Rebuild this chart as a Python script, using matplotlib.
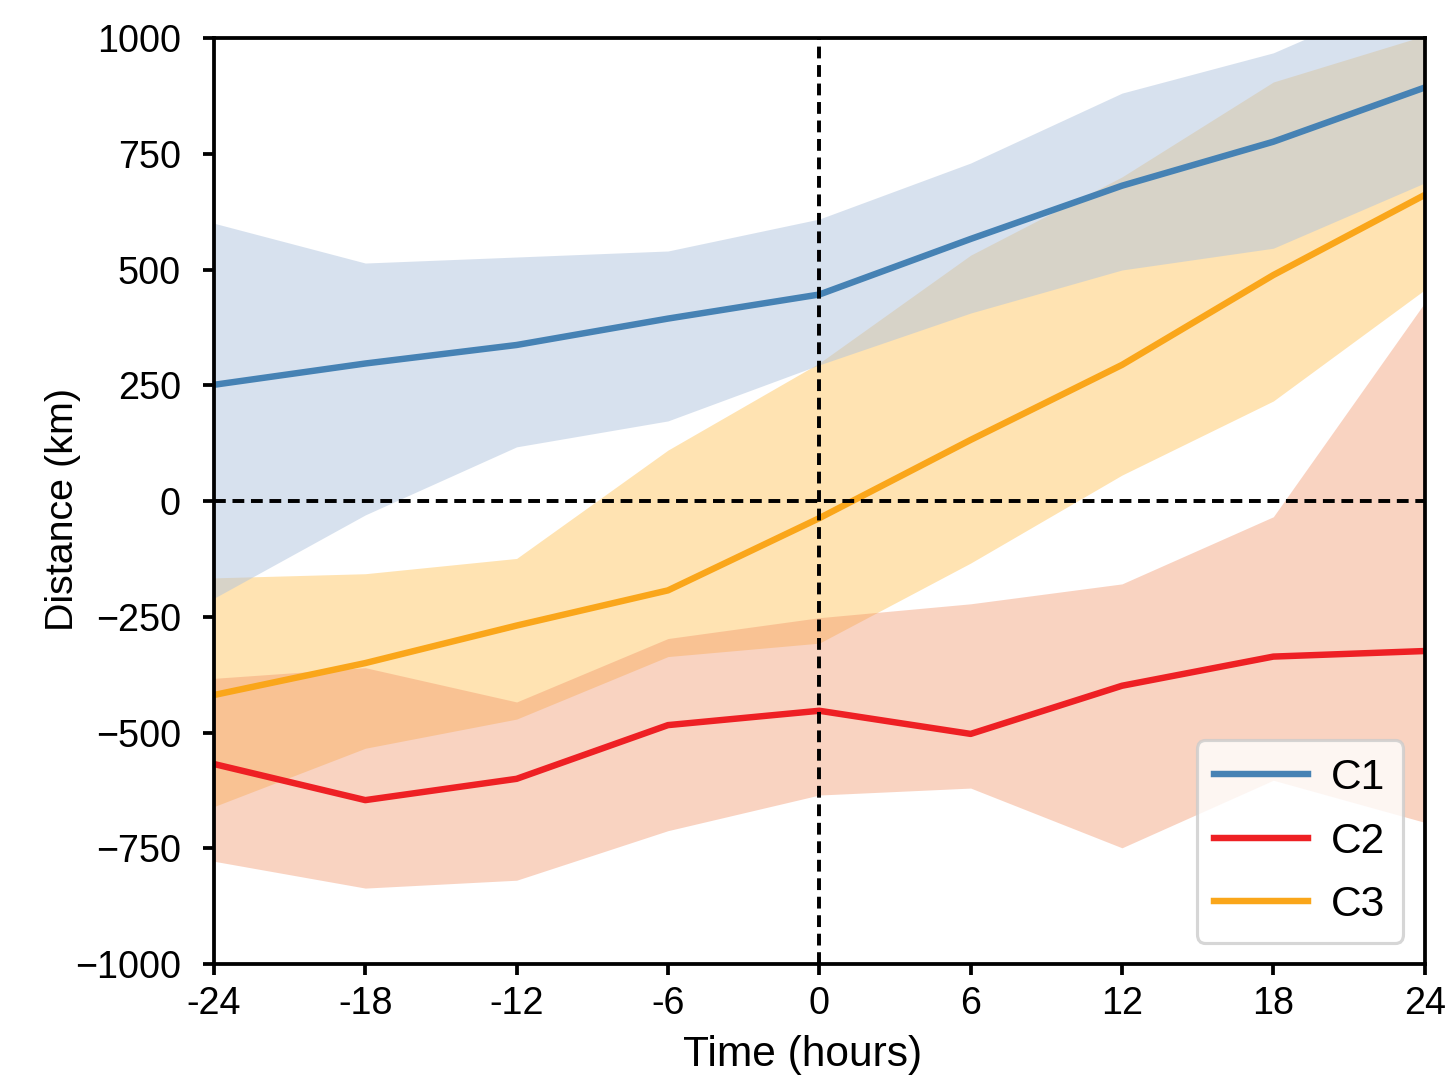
import matplotlib.pyplot as plt

plt.rcParams['font.family'] = ['Liberation Sans', 'DejaVu Sans']
plt.rcParams['font.size'] = 12

# hours relative to event
HOURS = [-24, -18, -12, -6, 0, 6, 12, 18, 24]
HOUR_LABELS = ['-24', '-18', '-12', '-6', '0', '6', '12', '18', '24']

# mean distance (km) and spread band for each cluster
C1_MEAN = [251, 297, 337, 394, 446, 566, 681, 776, 893]
C1_LOW = [-210, -30, 117, 173, 294, 406, 499, 546, 687]
C1_HIGH = [600, 514, 527, 540, 609, 730, 881, 968, 1110]

C2_MEAN = [-568, -646, -600, -484, -453, -503, -399, -336, -324]
C2_LOW = [-778, -836, -819, -712, -635, -620, -749, -603, -694]
C2_HIGH = [-383, -360, -434, -297, -252, -222, -179, -34, 428]

C3_MEAN = [-419, -350, -269, -193, -37, 132, 294, 488, 661]
C3_LOW = [-660, -534, -471, -336, -307, -134, 56, 216, 456]
C3_HIGH = [-166, -157, -124, 110, 298, 531, 700, 905, 1005]

fig, ax = plt.subplots(figsize=(6.4, 4.755), dpi=226.5)
fig.subplots_adjust(left=0.1476, right=0.9828, top=0.9647, bottom=0.1049)

# bands
ax.fill_between(HOURS, C3_LOW, C3_HIGH, color='orange', alpha=0.3, lw=0)
ax.fill_between(HOURS, C1_LOW, C1_HIGH, color='lightsteelblue', alpha=0.5, lw=0)
ax.fill_between(HOURS, C2_LOW, C2_HIGH, color='#F29166', alpha=0.4, lw=0)

# mean lines
ax.plot(HOURS, C1_MEAN, color='#4682B4', lw=2.05, label='C1')
ax.plot(HOURS, C2_MEAN, color='#EE2024', lw=2.05, label='C2')
ax.plot(HOURS, C3_MEAN, color='#FAA61A', lw=2.05, label='C3')

ax.axhline(0, color='black', lw=1.25, ls=(0, (3, 1.7)))
ax.axvline(0, color='black', lw=1.25, ls=(0, (3, 1.7)))

ax.set_xlim(-24, 24)
ax.set_ylim(-1000, 1000)
ax.set_xticks(HOURS)
ax.set_xticklabels(HOUR_LABELS)
ax.set_yticks([-1000, -750, -500, -250, 0, 250, 500, 750, 1000])
for s in ax.spines.values():
    s.set_linewidth(1.2)
ax.tick_params(width=1.2, length=3.5)
ax.tick_params(axis='y', pad=7)

ax.set_xlabel('Time (hours)', fontsize=13.5)
ax.set_ylabel('Distance (km)', fontsize=12.5)
ax.xaxis.set_label_coords(0.486, -0.077)
ax.yaxis.set_label_coords(-0.1098, 0.4914)

ax.legend(loc='lower right', fontsize=13.5, handlelength=2.2, handletextpad=0.55,
          labelspacing=0.55, borderpad=0.42)

fig.savefig('out.png', dpi=226.5)
